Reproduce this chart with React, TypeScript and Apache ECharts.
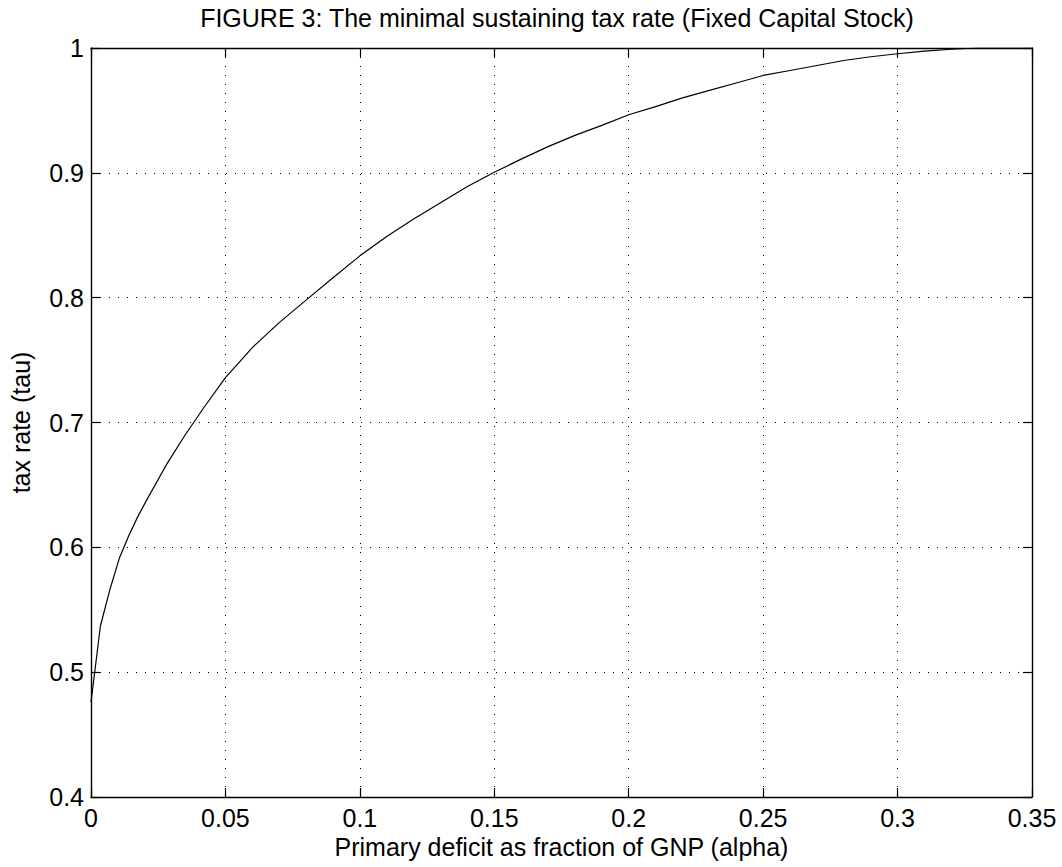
import React, { useEffect, useRef } from "react";
import * as echarts from "echarts";

const titleText = "FIGURE 3: The minimal sustaining tax rate (Fixed Capital Stock)";
const xAxisName = "Primary deficit as fraction of GNP (alpha)";
const yAxisName = "tax rate (tau)";

const alpha = [
  0, 0.0035, 0.007, 0.0105, 0.014, 0.0175, 0.021, 0.028, 0.035, 0.042, 0.05,
  0.06, 0.07, 0.08, 0.09, 0.1, 0.11, 0.12, 0.13, 0.14, 0.15, 0.16, 0.17, 0.18,
  0.19, 0.2, 0.21, 0.22, 0.23, 0.24, 0.25, 0.26, 0.27, 0.28, 0.29, 0.3, 0.31,
  0.32, 0.33, 0.34, 0.35,
];
const tau = [
  0.476, 0.537, 0.566, 0.591, 0.609, 0.625, 0.639, 0.666, 0.69, 0.712, 0.736,
  0.76, 0.78, 0.798, 0.816, 0.8335, 0.849, 0.863, 0.876, 0.889, 0.9005, 0.911,
  0.921, 0.93, 0.938, 0.9465, 0.953, 0.96, 0.966, 0.972, 0.978, 0.982, 0.986,
  0.99, 0.993, 0.9954, 0.9975, 0.999, 1.0, 1.0, 1.0,
];

const xTicks = [0, 0.05, 0.1, 0.15, 0.2, 0.25, 0.3, 0.35];
const yTicks = [0.4, 0.5, 0.6, 0.7, 0.8, 0.9, 1];

const FONT = "'Liberation Sans', Arial, Helvetica, sans-serif";
const FS = 25;

export default function App() {
  const ref = useRef<HTMLDivElement>(null);
  useEffect(() => {
    if (!ref.current) return;
    const chart = echarts.init(ref.current, undefined, { renderer: "svg" });
    const gridLine = {
      show: true,
      lineStyle: { color: "#000", width: 1, type: [1, 8] as any },
    };
    const axisLine = { show: true, onZero: false, lineStyle: { color: "#000", width: 1.4 } };
    const axisTick = { show: true, inside: true, length: 9, lineStyle: { color: "#000", width: 1.2 } };
    chart.setOption({
      animation: false,
      backgroundColor: "#fff",
      textStyle: { fontFamily: FONT },
      title: {
        text: titleText,
        left: 557,
        textAlign: "center",
        top: 5,
        padding: 0,
        textStyle: { fontFamily: FONT, fontSize: FS, fontWeight: "normal", color: "#000" },
      },
      grid: { left: 82, right: 30, top: 48, bottom: 70, containLabel: false },
      xAxis: [
        {
          type: "value",
          min: 0,
          max: 0.35,
          interval: 0.05,
          name: xAxisName,
          nameLocation: "middle",
          nameGap: 35,
          nameTextStyle: { fontFamily: FONT, fontSize: FS, color: "#000" },
          axisLine,
          axisTick,
          splitLine: gridLine,
          axisLabel: {
            fontFamily: FONT,
            fontSize: FS,
            color: "#000",
            margin: 8,
            formatter: (v: number) => {
              const m = xTicks.find((t) => Math.abs(t - v) < 1e-9);
              return m === undefined ? "" : String(m);
            },
          },
        },
        {
          type: "value",
          position: "top",
          min: 0,
          max: 0.35,
          interval: 0.05,
          axisLine,
          axisTick,
          splitLine: { show: false },
          axisLabel: { show: false },
        },
      ],
      yAxis: [
        {
          type: "value",
          min: 0.4,
          max: 1,
          interval: 0.1,
          name: yAxisName,
          nameLocation: "middle",
          nameGap: 58,
          nameTextStyle: { fontFamily: FONT, fontSize: FS, color: "#000" },
          axisLine,
          axisTick,
          splitLine: gridLine,
          axisLabel: {
            fontFamily: FONT,
            fontSize: FS,
            color: "#000",
            margin: 7,
            formatter: (v: number) => {
              const m = yTicks.find((t) => Math.abs(t - v) < 1e-9);
              return m === undefined ? "" : String(m);
            },
          },
        },
        {
          type: "value",
          position: "right",
          min: 0.4,
          max: 1,
          interval: 0.1,
          axisLine,
          axisTick,
          splitLine: { show: false },
          axisLabel: { show: false },
        },
      ],
      series: [
        {
          type: "line",
          data: alpha.map((a, i) => [a, tau[i]]),
          showSymbol: false,
          symbol: "none",
          smooth: false,
          lineStyle: { color: "#000", width: 1.2 },
          xAxisIndex: 0,
          yAxisIndex: 0,
        },
      ],
    });
    return () => chart.dispose();
  }, []);
  return (
    <div
      ref={ref}
      style={{ position: "fixed", left: 0, top: 0, width: 1062, height: 867, background: "#fff" }}
    />
  );
}
